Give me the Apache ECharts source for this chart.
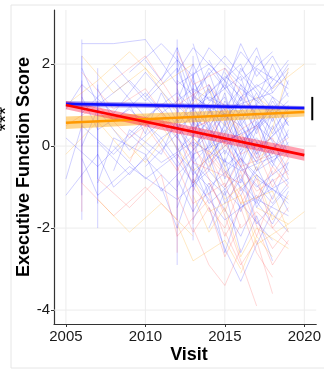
<!DOCTYPE html>
<html>
<head>
<meta charset="utf-8">
<script src="https://cdn.jsdelivr.net/npm/echarts@6/dist/echarts.min.js"></script>
<style>
  html, body { margin: 0; background: #fff; }
  #chart { width: 324px; height: 370px; }
</style>
</head>
<body>
<div id="chart"></div>
<script>
// axis ranges and ticks
const xRange = [2004.25, 2020.75];
const yRange = [-4.34, 3.32];
const xTicks = [2005, 2010, 2015, 2020];
const yTicks = [-4, -2, 0, 2];

// individual trajectories: [visit year, score]
const blueSubjects = [
  [[2006,2.5],[2008,2.5],[2010,2.6],[2012,1.5],[2014,2.0],[2016,1.2],[2018,1.7]],
  [[2006,1.2],[2007,0.4],[2009,0.9],[2011,0.2],[2013,0.7],[2015,0.1],[2017,0.5],[2019,-0.2]],
  [[2005,0.2],[2007,-0.5],[2009,0.3],[2011,-0.4],[2013,0.1],[2016,-0.6],[2019,-0.1]],
  [[2005,-0.8],[2006,0.5],[2008,-0.2],[2010,0.6],[2012,-0.5],[2014,0.3]],
  [[2006,1.9],[2007,1.0],[2009,1.6],[2011,0.8],[2013,1.4],[2015,0.9],[2018,1.3]],
  [[2008,0.0],[2010,-0.8],[2012,-0.2],[2014,-1.0],[2016,-0.3],[2018,-1.1]],
  [[2012,2.2],[2013,1.1],[2014,1.8],[2015,0.7],[2017,1.5],[2019,0.9]],
  [[2013,2.5],[2014,1.3],[2016,2.0],[2017,1.0],[2019,1.9]],
  [[2011,-1.0],[2012,-2.0],[2013,-0.8],[2015,-1.8],[2017,-1.2],[2019,-2.1]],
  [[2012,0.5],[2013,-0.3],[2014,0.9],[2016,0.1],[2018,0.8]],
  [[2006,-0.3],[2007,-1.2],[2009,-0.5],[2012,-1.3],[2014,-0.6],[2016,-1.5],[2019,-0.8]],
  [[2010,1.2],[2012,2.1],[2013,0.6],[2015,1.5],[2017,0.4],[2019,1.1]],
  [[2014,-1.5],[2015,-2.5],[2016,-3.3],[2017,-2.4],[2018,-1.6]],
  [[2012,1.0],[2014,0.2],[2015,1.1],[2017,-0.1],[2019,0.6]],
  [[2007,1.4],[2008,0.6],[2010,1.3],[2012,0.4],[2013,1.2],[2016,0.5],[2018,1.6]],
  [[2013,-0.5],[2014,-1.4],[2016,-0.7],[2017,-1.9],[2019,-1.0]],
  [[2012,1.8],[2013,2.4],[2015,1.6],[2016,2.3],[2018,1.4],[2019,2.0]],
  [[2009,0.3],[2011,1.0],[2013,0.0],[2015,0.8],[2017,-0.4],[2019,0.3]],
  [[2006,0.8],[2008,1.6],[2010,0.7],[2012,1.3],[2014,0.5],[2016,1.4]],
  [[2013,0.3],[2014,1.0],[2015,-0.2],[2016,0.7],[2018,-0.5],[2019,0.4]],
  [[2005,-1.2],[2007,-0.2],[2008,-1.0],[2010,-0.3],[2012,-1.1]],
  [[2014,2.1],[2015,1.4],[2016,2.5],[2017,1.7],[2018,2.2],[2019,1.5]],
  [[2012,-0.8],[2013,-1.6],[2014,-0.9],[2016,-2.2],[2017,-1.3],[2019,-1.7]],
  [[2011,0.7],[2012,-0.1],[2014,0.6],[2015,-0.5],[2017,0.2],[2018,-0.3]],
  [[2013,1.6],[2014,0.8],[2015,1.9],[2017,1.1],[2018,2.0],[2019,1.2]],
  [[2007,0.1],[2009,-0.7],[2011,0.2],[2013,-0.9],[2015,-0.1],[2017,-1.0],[2019,-0.4]],
  [[2015,0.4],[2016,-0.4],[2017,0.6],[2018,-0.2],[2019,0.8]],
  [[2012,0.2],[2013,0.9],[2014,-0.4],[2016,0.4],[2017,-0.6],[2019,-0.1]],
  [[2008,2.0],[2010,1.1],[2012,1.9],[2013,0.9],[2015,1.7],[2018,0.8]],
  [[2013,-1.8],[2014,-1.0],[2015,-2.6],[2016,-1.4],[2018,-2.3]],
  [[2006,0.0],[2007,0.9],[2009,-0.1],[2011,0.6],[2013,-0.2],[2016,0.3]],
  [[2014,0.0],[2015,0.9],[2016,-0.2],[2017,0.8],[2018,0.1],[2019,-0.6]],
  [[2012,1.4],[2013,0.4],[2015,1.2],[2016,0.0],[2018,1.0],[2019,0.2]],
  [[2010,-0.5],[2012,0.3],[2013,-0.7],[2015,0.2],[2017,-0.8],[2019,-1.3]],
  [[2016,1.8],[2017,2.4],[2018,1.3],[2019,1.8]],
  [[2013,1.2],[2014,1.9],[2016,0.9],[2017,1.9],[2019,1.4]],
  [[2012,-1.5],[2013,-0.4],[2015,-1.2],[2016,-0.5],[2018,-1.4],[2019,-0.9]],
  [[2009,1.8],[2011,2.5],[2013,1.7],[2014,2.4],[2016,1.6],[2018,2.3]],
  [[2014,-0.3],[2015,0.3],[2016,-1.1],[2018,-0.1],[2019,-0.7]],
  [[2005,0.9],[2006,1.5],[2008,0.8],[2010,1.8],[2012,0.9]],
  [[2012,0.8],[2013,1.7],[2014,0.4],[2015,1.3],[2016,-0.1],[2017,1.0],[2018,0.3],[2019,1.0]],
  [[2013,-0.1],[2014,0.5],[2015,-0.8],[2016,0.2],[2017,-0.4],[2018,0.5],[2019,-0.3]],
  [[2012,-0.3],[2013,0.6],[2014,-0.6],[2015,0.6],[2016,-0.9],[2017,0.1],[2019,-0.9]],
  [[2014,1.5],[2015,0.6],[2016,1.2],[2017,0.3],[2018,1.1],[2019,0.5]],
  [[2013,0.8],[2014,-0.1],[2015,0.5],[2016,1.5],[2017,0.7],[2018,-0.4],[2019,0.1]],
  [[2012,1.1],[2013,2.0],[2014,1.1],[2016,1.7],[2017,0.5],[2019,1.3]],
  [[2015,-1.0],[2016,-0.2],[2017,-1.5],[2018,-0.8],[2019,-1.6]],
  [[2013,-1.1],[2014,-0.2],[2015,-1.4],[2016,-0.8],[2018,-1.9],[2019,-1.1]],
  [[2012,0.0],[2013,-1.0],[2014,0.1],[2015,-0.6],[2017,-1.4],[2018,-0.6]],
  [[2014,0.6],[2015,1.6],[2016,0.6],[2017,1.3],[2018,0.6],[2019,1.6]],
  [[2013,1.0],[2014,0.1],[2015,0.8],[2016,-0.5],[2017,0.4],[2018,1.2],[2019,0.5]],
  [[2016,0.5],[2017,-0.2],[2018,0.9],[2019,0.0]],
  [[2012,-1.0],[2013,-0.2],[2014,-1.2],[2015,-0.3],[2016,-1.6],[2017,-0.7],[2019,-1.4]],
  [[2008,-0.6],[2009,0.4],[2011,-0.2],[2012,0.7],[2013,-0.4],[2015,0.4]],
  [[2009,1.0],[2010,0.3],[2011,1.3],[2012,0.6],[2014,1.2],[2016,0.8]],
  [[2010,2.1],[2011,1.6],[2012,2.4],[2013,1.3],[2015,2.2],[2017,1.3]],
  [[2014,-2.0],[2015,-1.1],[2016,-2.6],[2017,-1.7],[2018,-2.8]],
  [[2015,1.8],[2016,1.1],[2017,2.2],[2018,1.6],[2019,2.1]],
  [[2013,0.5],[2014,1.4],[2015,0.1],[2016,0.9],[2017,-0.2],[2019,0.7]],
  [[2012,1.6],[2014,0.9],[2015,0.3],[2016,1.2],[2018,0.4],[2019,0.9]],
  [[2007,-0.9],[2008,0.2],[2010,-0.2],[2011,-1.1],[2013,-0.3]],
  [[2014,0.3],[2015,-0.4],[2016,0.6],[2017,-0.3],[2018,0.7],[2019,-0.2]],
  [[2016,-1.2],[2017,-0.5],[2018,-1.3],[2019,-0.4]],
  [[2012,0.9],[2013,0.2],[2014,1.5],[2015,0.7],[2016,1.9],[2018,0.9]],
  [[2006,2.6],[2006,-1.8]],
  [[2006,2.2],[2006,-1.2]],
  [[2006,1.6],[2006,-0.9]],
  [[2007,1.9],[2007,-2.0]],
  [[2007,1.5],[2007,-1.4]],
  [[2007,1.1],[2007,-0.8]],
  [[2012,2.6],[2012,-2.9]],
  [[2012,2.4],[2012,-1.2]],
  [[2012,1.9],[2012,-1.8]],
  [[2013,2.2],[2013,-2.3]],
  [[2013,1.8],[2013,-1.6]],
  [[2013,1.5],[2013,-1.0]]
];

const redSubjects = [
  [[2006,1.8],[2008,0.9],[2010,1.4],[2012,0.3],[2014,0.6],[2016,-0.5],[2018,-0.2]],
  [[2012,-0.5],[2013,-1.4],[2015,-0.9],[2016,-2.0],[2017,-1.6],[2019,-2.4]],
  [[2013,0.1],[2014,-0.8],[2015,-1.7],[2016,-2.8],[2017,-3.9]],
  [[2007,-0.8],[2009,-1.5],[2011,-0.7],[2012,-2.2],[2014,-1.3]],
  [[2012,1.2],[2013,0.4],[2015,0.9],[2017,-0.3],[2019,0.2]],
  [[2014,-1.2],[2015,-2.2],[2016,-1.5],[2017,-2.6],[2018,-3.2]],
  [[2005,0.5],[2007,1.0],[2009,0.2],[2011,0.8],[2013,-0.4],[2016,-0.9]],
  [[2013,-2.0],[2014,-2.9],[2015,-3.4],[2016,-2.5]],
  [[2012,0.4],[2014,-0.5],[2015,0.1],[2017,-1.1],[2019,-0.6]],
  [[2015,-0.6],[2016,-1.4],[2017,-0.8],[2018,-2.0],[2019,-1.5]],
  [[2008,1.6],[2010,2.2],[2012,1.0],[2014,1.5],[2016,0.4],[2018,0.9]],
  [[2013,-1.0],[2015,-2.0],[2016,-1.0],[2018,-2.9],[2019,-2.3]],
  [[2006,-0.9],[2008,-1.7],[2010,-1.0],[2012,-1.8]],
  [[2014,0.9],[2015,0.0],[2017,0.5],[2018,-0.7],[2019,-0.1]],
  [[2012,2.3],[2013,1.5],[2015,1.9],[2017,0.7]],
  [[2013,0.6],[2014,-0.2],[2015,-1.0],[2016,-0.3],[2017,-1.3],[2018,-0.5],[2019,-1.0]],
  [[2012,-0.2],[2013,-0.9],[2014,-0.1],[2016,-1.2],[2017,-2.2],[2018,-1.2]],
  [[2014,-0.9],[2015,-1.6],[2016,-0.6],[2017,-1.8],[2018,-2.5],[2019,-2.0]],
  [[2013,1.3],[2014,0.3],[2015,0.7],[2016,-0.2],[2018,0.2],[2019,-0.8]],
  [[2015,-2.1],[2016,-2.9],[2017,-2.3],[2018,-3.6]],
  [[2012,-1.2],[2013,-2.1],[2014,-1.5],[2015,-2.7],[2016,-1.9]],
  [[2016,-0.8],[2017,-0.1],[2018,-1.0],[2019,-0.3]],
  [[2009,-0.4],[2010,0.5],[2012,-0.6],[2013,0.2],[2015,-0.7]],
  [[2012,1.6],[2012,-2.6]],
  [[2006,1.5],[2006,-1.6]],
  [[2013,1.4],[2013,-1.9]]
];

const orangeSubjects = [
  [[2005,-0.2],[2007,0.6],[2009,-0.3],[2011,0.5],[2013,-0.6],[2015,0.0]],
  [[2006,2.2],[2008,1.3],[2010,1.9],[2012,0.8]],
  [[2013,-1.2],[2014,-2.1],[2015,-1.5],[2016,-2.7],[2017,-2.0],[2019,-2.5]],
  [[2012,0.7],[2014,1.4],[2015,0.5],[2017,1.2],[2019,0.6]],
  [[2007,-1.3],[2009,-2.1],[2011,-1.4],[2013,-2.2]],
  [[2014,-0.4],[2015,-1.3],[2017,-0.7],[2018,-1.8],[2019,-1.2]],
  [[2005,1.0],[2007,1.6],[2009,2.3],[2011,1.5],[2013,2.0]],
  [[2015,1.0],[2016,0.2],[2017,-0.6],[2018,0.4],[2019,1.9]],
  [[2012,-1.9],[2013,-2.8],[2015,-2.3],[2016,-3.0]],
  [[2008,0.4],[2010,-0.4],[2012,0.6],[2014,-0.2],[2016,0.8]],
  [[2017,-1.5],[2019,-1.9],[2020,-1.6]],
  [[2018,1.4],[2020,2.0]],
  [[2013,-0.8],[2014,-1.6],[2016,-1.2],[2017,-2.4],[2019,-1.9]],
  [[2014,0.2],[2015,-0.5],[2016,-1.4],[2018,-1.1],[2019,-2.1]],
  [[2016,-3.1],[2017,-2.2],[2018,-2.7]]
];

// group fits with confidence bands
const fitYears = [2005, 2020];
const blueFit = [1.03, 0.93];
const blueLo = [0.96, 0.88];
const blueHi = [1.10, 0.98];
const orangeFit = [0.57, 0.83];
const orangeLo = [0.42, 0.72];
const orangeHi = [0.72, 0.94];
const redFit = [1.00, -0.22];
const redLo = [0.90, -0.36];
const redHi = [1.10, -0.08];

// significance bar
const barX = [2020.5, 2020.5];
const barY = [1.2, 0.63];

const chart = echarts.init(document.getElementById('chart'), null, { renderer: 'canvas' });

const series = [];
const FONT = 'Liberation Sans, Arial, sans-serif';

// light grid lines on the tick values
xTicks.forEach(v => series.push({
  type: 'line', data: yRange.map(y => [v, y]), showSymbol: false, silent: true, z: 0,
  lineStyle: { color: '#ececec', width: 1 }
}));
yTicks.forEach(v => series.push({
  type: 'line', data: xRange.map(x => [x, v]), showSymbol: false, silent: true, z: 0,
  lineStyle: { color: '#ececec', width: 1 }
}));

function spaghetti(list, color) {
  list.forEach(d => {
    series.push({
      type: 'line',
      data: d,
      showSymbol: false,
      silent: true,
      z: 1,
      lineStyle: { color, width: 0.9 }
    });
  });
}
spaghetti(blueSubjects, 'rgba(30,30,255,0.23)');
spaghetti(redSubjects, 'rgba(255,50,50,0.22)');
spaghetti(orangeSubjects, 'rgba(255,160,0,0.26)');

function band(lo, hi, fill) {
  series.push({
    type: 'custom',
    data: [[fitYears[0], lo[0]]],
    silent: true,
    z: 3,
    renderItem: (params, api) => {
      const pts = [];
      fitYears.forEach((x, i) => pts.push(api.coord([x, hi[i]])));
      for (let i = fitYears.length - 1; i >= 0; i--) pts.push(api.coord([fitYears[i], lo[i]]));
      return { type: 'polygon', shape: { points: pts }, style: { fill } };
    }
  });
}
function fit(vals, color) {
  series.push({
    type: 'line',
    data: fitYears.map((x, i) => [x, vals[i]]),
    showSymbol: false,
    silent: true,
    z: 4,
    lineStyle: { color, width: 2.6 }
  });
}
band(orangeLo, orangeHi, 'rgba(255,165,0,0.45)');
fit(orangeFit, '#ff9900');
band(blueLo, blueHi, 'rgba(90,60,220,0.45)');
fit(blueFit, '#1010ff');
band(redLo, redHi, 'rgba(255,20,60,0.4)');
fit(redFit, '#ff0000');

series.push({
  type: 'line',
  data: barX.map((x, i) => [x, barY[i]]),
  showSymbol: false,
  silent: true,
  z: 5,
  lineStyle: { color: '#000', width: 2 }
});

chart.setOption({
  animation: false,
  backgroundColor: '#fff',
  grid: { left: 54, right: 1, top: 10, bottom: 46, containLabel: false },
  xAxis: {
    type: 'value',
    min: xRange[0],
    max: xRange[1],
    axisLine: { show: true, onZero: false, lineStyle: { color: '#333', width: 1.2 } },
    axisTick: { show: true, customValues: xTicks, length: 3, lineStyle: { color: '#333' } },
    axisLabel: {
      customValues: xTicks, margin: 5, color: '#1a1a1a', fontSize: 15, fontFamily: FONT,
      formatter: v => String(v)
    },
    splitLine: { show: false }
  },
  yAxis: {
    type: 'value',
    min: yRange[0],
    max: yRange[1],
    axisLine: { show: true, onZero: false, lineStyle: { color: '#333', width: 1.2 } },
    axisTick: { show: true, customValues: yTicks, length: 3, lineStyle: { color: '#333' } },
    axisLabel: {
      customValues: yTicks, margin: 4, color: '#1a1a1a', fontSize: 15, fontFamily: FONT
    },
    splitLine: { show: false }
  },
  graphic: [
    {
      type: 'rect', silent: true, z: -1,
      shape: { x: 11, y: 5, width: 330, height: 363 },
      style: { fill: 'none', stroke: '#e6e6e6', lineWidth: 1 }
    },
    {
      type: 'text', x: 24, y: 167, rotation: Math.PI / 2,
      style: {
        text: 'Executive Function Score', fontSize: 18, fontWeight: 'bold',
        fontFamily: FONT, fill: '#000', align: 'center', verticalAlign: 'middle'
      }
    },
    {
      type: 'text', x: 189, y: 355,
      style: {
        text: 'Visit', fontSize: 18, fontWeight: 'bold',
        fontFamily: FONT, fill: '#000', align: 'center', verticalAlign: 'middle'
      }
    },
    {
      type: 'text', x: 6, y: 119, rotation: Math.PI / 2,
      style: {
        text: '***', fontSize: 21,
        fontFamily: FONT, fill: '#000', align: 'center', verticalAlign: 'middle'
      }
    }
  ],
  series
});
</script>
</body>
</html>
